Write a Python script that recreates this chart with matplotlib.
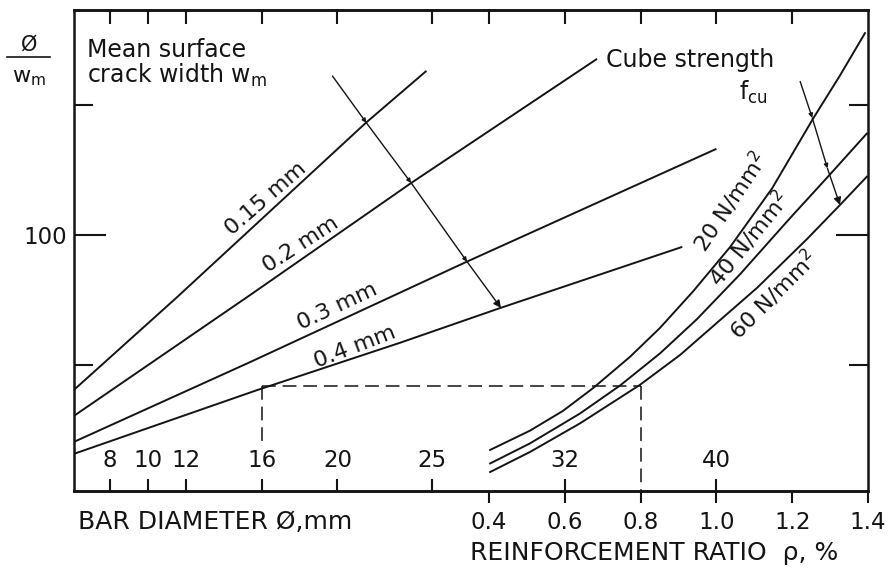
import matplotlib
matplotlib.use('Agg')
import matplotlib.pyplot as plt
from matplotlib.lines import Line2D

plt.rcParams['font.family'] = ['DejaVu Sans']
INK = '#141414'

############ crack width lines : bar diameter (mm) vs  phi / w_m ############
crack_labels = ['0.15 mm', '0.2 mm', '0.3 mm', '0.4 mm']
d_015 = [6.1, 11.5, 21.5, 24.7]
v_015 = [40.6, 76.0, 143.3, 163.3]
d_02 = [6.1, 15.4, 23.9, 33.7]
v_02 = [30.6, 77.1, 120.2, 167.9]
d_03 = [6.1, 15.4, 26.8, 40.0]
v_03 = [20.6, 51.3, 89.8, 133.3]
d_04 = [6.1, 15.8, 23.3, 28.6, 38.2]
v_04 = [16.0, 40.6, 58.7, 72.1, 95.6]

############ cube strength curves : reinforcement ratio (%) vs phi / w_m ####
fcu_labels = ['20 N/mm$^\\mathregular{2}$', '40 N/mm$^\\mathregular{2}$', '60 N/mm$^\\mathregular{2}$']
r_20 = [0.403, 0.508, 0.595, 0.674, 0.772, 0.851, 0.938, 1.036, 1.147, 1.255, 1.326, 1.392]
v_20 = [17.5, 24.9, 32.5, 41.2, 53.3, 64.4, 78.4, 95.5, 118.1, 144.9, 161.5, 177.8]
r_40 = [0.403, 0.508, 0.640, 0.746, 0.851, 0.948, 1.062, 1.194, 1.300, 1.397]
v_40 = [12.3, 20.0, 31.5, 42.3, 54.6, 67.7, 85.0, 106.6, 123.5, 139.2]
r_60 = [0.403, 0.508, 0.640, 0.798, 0.904, 1.107, 1.239, 1.326, 1.397]
v_60 = [9.0, 16.7, 27.7, 42.5, 54.0, 79.8, 98.6, 111.7, 122.6]

# worked example (dashed): 16 mm bar, 0.4 mm crack -> 0.8 %
ex_d = 16
ex_r = 0.8
ex_v = 42.0

# arrows drawn across the families (start, crossings, end)
wm_arrow_d = [19.74, 21.53, 23.89, 26.84, 28.63]
wm_arrow_v = [161.3, 143.3, 120.2, 89.9, 72.1]
fcu_arrow_r = [1.221, 1.253, 1.293, 1.326]
fcu_arrow_v = [159.2, 145.2, 125.8, 111.7]

bar_ticks = [8, 10, 12, 16, 20, 25, 32, 40]
ratio_ticks = [0.4, 0.6, 0.8, 1.0, 1.2, 1.4]


def ratio_to_d(r):
    return 20 * (r + 1)


def d_to_ratio(d):
    return d / 20 - 1


fig = plt.figure(figsize=(8.88, 5.69), dpi=100)
ax = fig.add_axes([74 / 888, 1 - 491 / 569, 794 / 888, 481 / 569])
ax.set_xlim(6.1, 48)
ax.set_ylim(1.7, 186.7)
for s in ax.spines.values():
    s.set_linewidth(1.8)
    s.set_color(INK)

lw = 1.4
for d, v in [(d_015, v_015), (d_02, v_02), (d_03, v_03), (d_04, v_04)]:
    ax.plot(d, v, color=INK, lw=lw, solid_capstyle='butt')
for r, v in [(r_20, v_20), (r_40, v_40), (r_60, v_60)]:
    ax.plot([ratio_to_d(x) for x in r], v, color=INK, lw=lw, solid_joinstyle='round')

# dashed example
ax.plot([ex_d, ratio_to_d(ex_r)], [ex_v, ex_v], color=INK, lw=1.1, ls=(0, (9, 4.5)))
ax.plot([ex_d, ex_d], [ex_v, 19.5], color=INK, lw=1.1, ls=(0, (9, 4.5)))
ax.plot([ratio_to_d(ex_r)] * 2, [ex_v, -3.0], color=INK, lw=1.1, ls=(0, (9, 4.5)), clip_on=False)


def arrow_chain(xs, ys):
    for i in range(len(xs) - 1):
        big = i == len(xs) - 2
        ax.annotate('', xy=(xs[i + 1], ys[i + 1]), xytext=(xs[i], ys[i]),
                    arrowprops=dict(arrowstyle='-|>', color=INK, lw=1.0,
                                    mutation_scale=11 if big else 6,
                                    shrinkA=0, shrinkB=0))


arrow_chain(wm_arrow_d, wm_arrow_v)
arrow_chain([ratio_to_d(x) for x in fcu_arrow_r], fcu_arrow_v)

# curve labels
fs = 16
ax.text(16.2, 114.0, crack_labels[0], rotation=41, ha='center', va='center', fontsize=fs, color=INK)
ax.text(18.05, 96.3, crack_labels[1], rotation=33, ha='center', va='center', fontsize=fs, color=INK)
ax.text(20.0, 72.5, crack_labels[2], rotation=25, ha='center', va='center', fontsize=fs, color=INK)
ax.text(20.9, 57.1, crack_labels[3], rotation=21, ha='center', va='center', fontsize=fs, color=INK)
ax.text(40.7, 112.9, fcu_labels[0], rotation=56, ha='center', va='center', fontsize=fs, color=INK)
ax.text(41.7, 98.6, fcu_labels[1], rotation=51, ha='center', va='center', fontsize=fs, color=INK)
ax.text(43.0, 77.1, fcu_labels[2], rotation=45, ha='center', va='center', fontsize=fs, color=INK)

ax.text(6.8, 168.7, 'Mean surface', fontsize=17, color=INK, va='baseline')
ax.text(6.8, 158.7, 'crack width w$_\\mathregular{m}$', fontsize=17, color=INK, va='baseline')
ax.text(34.2, 164.9, 'Cube strength', fontsize=17, color=INK, va='baseline')
ax.text(41.2, 152.0, 'f$_\\mathregular{cu}$', fontsize=17, color=INK, va='baseline')

# y axis ticks (only 100 labelled)
ax.set_yticks([100])
ax.set_yticklabels(['100'])
ax.set_yticks([50, 150], minor=True)
ax.tick_params(axis='y', which='major', direction='in', length=23, width=1.5,
               left=True, right=True, labelsize=16.5, pad=5, colors=INK)
ax.tick_params(axis='y', which='minor', direction='in', length=14, width=1.5,
               left=True, right=True, colors=INK)

# bar diameter ticks, labels inside
ax.set_xticks(bar_ticks)
ax.set_xticklabels([str(b) for b in bar_ticks])
ax.tick_params(axis='x', direction='in', length=8.6, width=1.5, labelsize=16.5,
               pad=-30, colors=INK)

top = ax.secondary_xaxis('top')
top.set_xticks(bar_ticks[:6] + [28, 32, 36, 40, 44])
top.set_xticklabels([])
top.tick_params(direction='in', length=10, width=1.5, colors=INK)
top.spines['top'].set_linewidth(1.8)

# reinforcement ratio scale below
rax = ax.secondary_xaxis('bottom', functions=(d_to_ratio, ratio_to_d))
rax.set_xticks(ratio_ticks)
rax.set_xticklabels(['%.1f' % t for t in ratio_ticks])
rax.tick_params(direction='out', length=8.6, width=1.5, labelsize=16.5, pad=6, colors=INK)
rax.spines['bottom'].set_linewidth(1.8)

fig.text(78 / 888, 1 - 522 / 569, 'BAR DIAMETER Ø,mm', fontsize=18, color=INK, va='center')
fig.text(470 / 888, 1 - 553 / 569, 'REINFORCEMENT RATIO  ρ, %', fontsize=18, color=INK, va='center')

# y label  phi / w_m
fig.text(29 / 888, 1 - 45 / 569, 'Ø', fontsize=15, color=INK, ha='center', va='center')
fig.add_artist(Line2D([7 / 888, 50 / 888], [1 - 57 / 569] * 2, color=INK, lw=1.2))
fig.text(29 / 888, 1 - 78 / 569, 'w$_\\mathregular{m}$', fontsize=16, color=INK, ha='center', va='center')

fig.savefig('out.png', dpi=100)
